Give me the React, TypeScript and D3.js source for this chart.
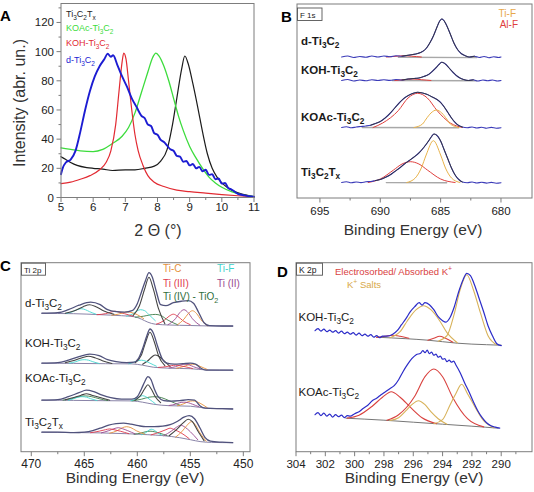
import React from "react";
import * as d3 from "d3";

type P = [number, number];
const FONT = "'Liberation Sans', Arial, Helvetica, sans-serif";

// ================= Panel A : XRD =================
const xrdTicksX = [5, 6, 7, 8, 9, 10, 11];
const xrdMinorX = [5.5, 6.5, 7.5, 8.5, 9.5, 10.5];
const xrdTicksY = [0, 20, 40, 60, 80, 100, 120];
const xrdMinorY = [10, 30, 50, 70, 90, 110, 130];
const xrdNames = ["Ti_3C_2T_x", "KOAc-Ti_3C_2", "KOH-Ti_3C_2", "d-Ti_3C_2"];

const xrdTi3C2Tx: P[] = [[5,28],[5.15,26],[5.3,24],[5.5,22],[5.8,20.5],[6,20],[6.3,19.5],[6.6,18.5],[7,19],[7.3,19],[7.6,20],[7.9,21.5],[8.1,25],[8.3,33],[8.45,48],[8.6,68],[8.75,88],[8.85,97],[8.95,92],[9.1,78],[9.25,62],[9.4,45],[9.55,30],[9.7,20],[9.85,14],[10,10],[10.2,6.5],[10.4,4],[10.6,2.5],[10.8,1.5],[11,0.5]];
const xrdKOAc: P[] = [[5,34],[5.3,33],[5.6,32],[6,31.5],[6.3,33],[6.6,37],[6.9,42],[7.1,48],[7.3,58],[7.5,72],[7.7,86],[7.85,96],[7.95,99],[8.05,97],[8.2,90],[8.35,80],[8.5,68],[8.65,56],[8.8,46],[9,35],[9.2,27],[9.4,20],[9.6,14],[9.8,10],[10,7],[10.3,4],[10.6,2],[11,0.5]];
const xrdKOH: P[] = [[5,9.5],[5.3,10.5],[5.6,12.5],[5.9,15],[6.2,19],[6.4,24],[6.55,32],[6.7,50],[6.8,72],[6.9,93],[6.95,99],[7.02,95],[7.1,80],[7.2,60],[7.3,43],[7.4,32],[7.55,22],[7.7,15],[7.9,10.5],[8.2,7.5],[8.6,5],[9,4],[9.5,3],[10,2],[10.5,1.2],[11,0.5]];
const xrdD: P[] = [[5,16],[5.05,20],[5.15,24],[5.3,26],[5.45,32],[5.6,45],[5.75,60],[5.9,73],[6.05,83],[6.2,90],[6.35,95],[6.45,98.5],[6.55,96.5],[6.62,97.5],[6.75,91],[6.9,83],[7.05,76],[7.2,68],[7.35,62],[7.5,56],[7.6,54.5],[7.7,50],[7.8,49],[7.9,44],[8,43],[8.1,39.5],[8.2,38],[8.3,35.5],[8.4,33],[8.5,32],[8.6,28.5],[8.7,28],[8.8,24.5],[8.9,25],[9,22],[9.1,23],[9.2,20],[9.3,21],[9.4,18],[9.5,19],[9.6,15.5],[9.7,16],[9.8,12.5],[9.9,13],[10,9.5],[10.1,10],[10.2,6.5],[10.3,5.5],[10.5,2.5],[10.7,1.5],[11,0.5]];

// ================= Panel B : F 1s =================
const f1sTicks = [695, 690, 685, 680];
const f1sMinor = [692.5, 687.5, 682.5];
const f1sNames = ["d-Ti_3C_2", "KOH-Ti_3C_2", "KOAc-Ti_3C_2", "Ti_3C_2T_x"];
const f1sFitWindows: P[] = [[688.5, 682], [688.5, 682], [691, 683], [690.5, 683]];

const f1sD: P[] = [[693.2,141],[692.7,142],[692.2,140.5],[691.7,141.5],[691.2,140.8],[690.7,142],[690.2,141],[689.7,142],[689.2,141.3],[688.7,142.3],[688.2,141.8],[687.7,142.8],[687.3,143.5],[686.9,144.5],[686.5,146.5],[686.2,149.5],[685.9,155],[685.6,162],[685.3,171],[685.1,176.5],[684.9,179],[684.7,177],[684.5,172.5],[684.2,164],[683.9,155],[683.6,148.5],[683.3,144.5],[683,142.5],[682.6,141],[682.2,141.8],[681.8,140.5],[681.4,141.5],[681,140.3],[680.6,141.3],[680.2,140.5],[680,141]];
const f1sDBase: P[] = [[688.5,140.8],[682,140.4]];
const f1sDAlF: P[] = [[689.5,141],[688.6,141.8],[688,142.3],[687.4,141.8],[686.6,141]];

const f1sKOH: P[] = [[693.2,117.5],[692.7,118.5],[692.2,117],[691.7,118],[691.2,117.2],[690.7,118.3],[690.2,117.5],[689.7,118.2],[689.2,117.6],[688.7,118.5],[688.2,118],[687.7,119],[687.2,119.5],[686.8,120],[686.4,121.5],[686,123.5],[685.7,126.5],[685.4,130],[685.1,134],[684.9,135.7],[684.6,134],[684.3,130],[684,126],[683.7,122.5],[683.4,120],[683.1,118.5],[682.7,117.5],[682.3,118.2],[681.9,117],[681.5,118],[681.1,117.2],[680.7,118],[680.3,117],[680,117.5]];
const f1sKOHBase: P[] = [[689,117.5],[682,117.2]];
const f1sKOHAlF: P[] = [[688.8,117.5],[688,118.3],[687.3,119],[686.6,118.3],[685.8,117.5]];

const f1sKOAc: P[] = [[693.2,70.5],[692.8,71.3],[692.4,70.2],[692,71],[691.6,71.5],[691.2,72],[690.8,72.8],[690.4,74.5],[690,76.5],[689.6,80],[689.2,84.5],[688.8,90],[688.4,95.5],[688,100],[687.6,103],[687.2,105],[686.9,105.7],[686.5,105],[686.1,103.5],[685.7,101],[685.3,98.5],[685,95.5],[684.7,91],[684.4,85.5],[684.1,80],[683.8,75.5],[683.5,72.5],[683.2,71],[682.8,70.3],[682.4,71],[682,70],[681.6,70.8],[681.2,69.8],[680.8,70.6],[680.4,69.8],[680,70.3]];
const f1sKOAcBase: P[] = [[691.5,70.5],[683.5,70.3]];
const f1sKOAcAlF: P[] = [[690.6,70.5],[689.8,75],[688.5,87.5],[687.7,100],[686.9,104.7],[686.1,100],[685.3,87.5],[684.2,75],[683.2,70.5]];
const f1sKOAcTiF: P[] = [[687.2,70.5],[686.5,74],[686.2,79],[685.8,85],[685.35,88],[684.9,85],[684.5,79],[684.2,74],[683.5,70.5]];

const f1sT: P[] = [[693.2,15.5],[692.8,16.3],[692.4,15.2],[692,16],[691.6,15.4],[691.2,16.2],[690.8,16.5],[690.4,17.5],[690,18.5],[689.6,20.5],[689.2,23],[688.8,26.5],[688.4,30],[688,34],[687.6,37.5],[687.2,41],[686.8,45],[686.4,50.5],[686,57],[685.75,61.5],[685.55,64],[685.3,62.5],[685,57],[684.7,48],[684.4,39],[684.1,30],[683.8,23],[683.5,18.5],[683.2,16],[682.8,15.3],[682.4,16],[682,15],[681.6,15.8],[681.2,14.9],[680.8,15.6],[680.4,14.8],[680,15.3]];
const f1sTBase: P[] = [[689.5,15.4],[684.5,15.3]];
const f1sTAlF: P[] = [[691,15.5],[690,19],[688.9,28],[688.2,34],[687.5,36.3],[686.8,34],[686.1,28],[685,19],[683.8,15.5]];
const f1sTTiF: P[] = [[687.8,15.5],[687.1,20],[686.6,30],[686.2,43],[685.6,57.3],[685,43],[684.6,30],[684.1,20],[683.4,15.5]];

// ================= Panel C : Ti 2p =================
const ti2pTicks = [470, 465, 460, 455, 450];
const ti2pMinor = [467.5, 462.5, 457.5, 452.5];
const ti2pNames = ["d-Ti_3C_2", "KOH-Ti_3C_2", "KOAc-Ti_3C_2", "Ti_3C_2T_x"];
const ti2pLegend = ["Ti-C", "Ti-F", "Ti (III)", "Ti (II)", "Ti (IV) - TiO_2"];

const tiD_env: P[] = [[469,138.5],[467.5,139],[466.5,142],[465.5,146.5],[464.4,149.5],[463.5,147],[462.8,142],[462,140],[461.2,139.5],[460.5,141],[460,148],[459.6,160],[459.2,172],[458.9,179],[458.6,175],[458.2,160],[457.8,147],[457.3,146],[456.6,149],[455.8,150.5],[455.2,151],[454.7,148.5],[454.2,139],[453.7,129],[453.2,126],[452,125.7],[451,125.7]];
const tiD_base: P[] = [[469,138.3],[466,138],[463.5,137],[461.5,136],[460.3,135],[459.6,132.5],[459,129.5],[458.3,127.5],[457,126.7],[455,126.2],[453.5,125.8],[451,125.5]];
const tiD_fit1: P[] = [[460.4,136],[459.8,146],[459.3,163],[458.9,174.5],[458.5,163],[458,143],[457.4,128]];
const tiD_fit2: P[] = [[466.8,138.5],[465.8,141.5],[465.1,145],[464.5,147],[463.9,145],[463.2,141],[462.2,137.5]];
const tiD_TiF1: P[] = [[461,135.5],[460.4,138],[460,141],[459.7,142],[459.3,141],[458.9,137],[458.3,131]];
const tiD_TiF2: P[] = [[466.7,138.3],[466.1,140],[465.7,142],[465.3,143],[464.9,142],[464.5,140],[463.9,137.5]];
const tiD_TiO2: P[] = [[460.2,134.5],[459.4,135.5],[458.8,136.8],[458.3,137.3],[457.8,136.3],[457.1,131.5],[456.2,127]];
const tiD_TiIII: P[] = [[458.2,127.5],[457.5,131],[457,135.5],[456.6,137.5],[456.2,135.5],[455.7,131],[455,127]];
const tiD_TiII: P[] = [[457.1,127],[456.4,133],[456,139],[455.6,142],[455.2,139],[454.8,133],[454.1,126.5]];
const tiD_TiC: P[] = [[456.2,127],[455.6,132.5],[455.2,138],[454.8,141],[454.4,138],[454,132],[453.4,126]];
const tiD_TiIII2: P[] = [[463.8,137],[463,138],[462.5,139.5],[462.1,140.5],[461.7,139.5],[461.2,138],[460.4,135.5]];
const tiD_TiC2: P[] = [[462.4,136.5],[461.8,137.5],[461.3,139],[460.9,139.8],[460.5,139],[460,137],[459.4,133]];

const tiK_env: P[] = [[469,88.5],[467.5,89],[466.5,91.5],[465.5,95],[464.5,97.5],[463.6,96],[462.8,92],[462,90],[461,89],[460.3,89.5],[459.9,93],[459.5,103],[459.1,116],[458.8,122.7],[458.5,119],[458.1,106],[457.7,94],[457.2,88.5],[456.5,87.5],[455.7,88],[455,88.5],[454.5,87.5],[454,83.5],[453.5,81.5],[452,81.5],[451,81.5]];
const tiK_base: P[] = [[469,88.5],[466,88.3],[463,88],[460.5,87.8],[459.5,86.5],[458.5,84.5],[457,83.5],[455,83],[453.5,81.8],[451,81.5]];
const tiK_fit1: P[] = [[460.2,89],[459.6,97],[459.2,110],[458.8,119.5],[458.4,110],[458,96],[457.4,86]];
const tiK_fit2: P[] = [[466.8,89],[465.9,91.5],[465.2,94],[464.6,95.5],[464,94],[463.3,91],[462.4,88.2]];
const tiK_hump: P[] = [[459.5,87.5],[459,91],[458.6,95],[458.3,96.7],[457.9,95],[457.5,91],[456.9,85]];
const tiK_TiF1: P[] = [[460.8,88],[460.3,89.5],[459.9,91],[459.6,91.5],[459.2,90.5],[458.8,88.5],[458.2,85.5]];
const tiK_TiF2: P[] = [[466.4,88.5],[465.8,90],[465.4,91.5],[465,92],[464.6,91.5],[464.2,90],[463.6,88.2]];
const tiK_TiC: P[] = [[456.3,83.5],[455.7,85],[455.2,86.8],[454.8,87.5],[454.4,86.8],[454,85],[453.4,82.2]];
const tiK_TiII: P[] = [[457,83.7],[456.4,85],[455.9,86.8],[455.5,87.5],[455.1,86.8],[454.7,85],[454.1,83]];
const tiK_TiIII: P[] = [[458,84.3],[457.3,85],[456.8,86],[456.4,86.5],[456,86],[455.5,85],[454.8,83.2]];

const tiA_env: P[] = [[469,51.5],[467.5,52],[466.5,55],[465.5,59],[464.8,61.5],[464.1,60],[463.3,56.5],[462.5,54],[461.5,52.5],[460.5,52.5],[460,55],[459.6,63],[459.3,70],[459,75],[458.7,72],[458.4,63],[458,54.5],[457.5,51],[456.8,50.5],[456,51],[455.2,52],[454.6,51.5],[454.1,46],[453.6,43.5],[452,43],[451,42.7]];
const tiA_base: P[] = [[469,51.6],[466,51.3],[463,51],[460.5,50.8],[459.5,49.5],[458.5,47.5],[457,46],[455,45.5],[453.5,43.5],[451,42.8]];
const tiA_fit1: P[] = [[460.2,51.5],[459.7,56],[459.3,63],[459,67],[458.7,63],[458.3,55],[457.8,49]];
const tiA_fit2: P[] = [[466.8,52],[465.9,54.5],[465.3,56.5],[464.8,58],[464.3,56.5],[463.6,54.5],[462.6,51.5]];
const tiA_TiO2a: P[] = [[460.5,50.8],[459.6,52.5],[458.9,54.5],[458.3,55],[457.7,54],[457,51],[456,46.5]];
const tiA_TiO2b: P[] = [[467,51.6],[466.2,53],[465.5,55],[464.9,55.8],[464.3,55],[463.6,53],[462.8,51.2]];
const tiA_TiF1: P[] = [[460.6,51],[460.1,53],[459.8,55],[459.5,56],[459.2,55],[458.8,52],[458.3,48]];
const tiA_TiF2: P[] = [[466.5,51.5],[466,53],[465.6,54.5],[465.2,55],[464.8,54.5],[464.4,53],[463.8,51.2]];
const tiA_TiC: P[] = [[456.2,46],[455.6,48],[455.2,50],[454.8,50.8],[454.4,50],[454,48],[453.4,44]];
const tiA_TiII: P[] = [[457,46.2],[456.4,47.5],[456,49],[455.6,49.5],[455.2,49],[454.8,47.5],[454.2,45]];

const tiT_env: P[] = [[469,19.5],[467.5,19.5],[466,19],[465,19.5],[464.2,21],[463.5,23.5],[462.7,26.5],[462,28],[461.3,28.5],[460.6,27.5],[459.9,26],[459.2,25],[458.4,25],[457.6,25.5],[456.9,27],[456.2,30.5],[455.6,34.5],[455.1,36],[454.6,33],[454.1,24],[453.6,14],[453.1,10.5],[452,9.5],[451,9]];
const tiT_base: P[] = [[469,19.5],[466,19.2],[463.5,18.8],[461,18],[459,17],[457.5,16],[456,14],[455,12],[454,10],[453,9.3],[451,9]];
const tiT_fit1: P[] = [[457,16],[456.3,22],[455.7,28.5],[455.2,32.5],[454.8,30],[454.3,21],[453.7,11]];
const tiT_TiC: P[] = [[456.4,14.5],[455.8,20],[455.3,26.5],[454.9,30],[454.5,26.5],[454.1,19],[453.5,10.5]];
const tiT_TiII: P[] = [[457.5,16],[456.8,20.5],[456.3,24.5],[455.9,26.5],[455.5,24.5],[455,20],[454.3,12]];
const tiT_TiIII: P[] = [[458.7,16.8],[457.9,19.5],[457.3,22],[456.9,23.5],[456.5,22],[455.9,19],[455.1,13]];
const tiT_TiF: P[] = [[459.6,17],[459.2,19],[458.9,21.5],[458.7,22.5],[458.4,21.5],[458.1,19],[457.7,16.5]];
const tiT_TiO2: P[] = [[460.3,17.5],[459.7,18.5],[459.2,20],[458.8,20.5],[458.4,20],[457.9,18.5],[457.2,16.2]];
const tiT_TiC2: P[] = [[462.6,18.5],[461.9,21],[461.4,24],[461,25],[460.6,24],[460.1,21],[459.3,17.5]];
const tiT_TiII2: P[] = [[463.4,18.8],[462.7,21],[462.2,23],[461.8,24],[461.4,23],[460.9,21],[460.2,17.8]];
const tiT_TiIII2: P[] = [[464.4,19],[463.6,20.5],[463,22],[462.6,22.8],[462.2,22],[461.6,20.5],[460.8,18]];

// ================= Panel D : K 2p =================
const k2pTicks = [304, 302, 300, 298, 296, 294, 292, 290];
const k2pMinor = [303, 301, 299, 297, 295, 293, 291, 289];
const k2pNames = ["KOH-Ti_3C_2", "KOAc-Ti_3C_2"];
const k2pLegend = ["Electrosorbed/ Absorbed K^+", "K^+ Salts"];

const kKOH: P[] = [[302.7,121],[302.5,123],[302.3,120.5],[302.1,122.5],[301.9,120],[301.7,121.5],[301.5,119.5],[301.3,121],[301.1,118.5],[300.9,120.5],[300.7,118],[300.5,119.5],[300.3,117.5],[300.1,119],[299.9,116.5],[299.7,118.5],[299.5,116],[299.3,117.5],[299.1,115.5],[298.9,117],[298.7,114.5],[298.5,116],[298.3,114],[298.1,115.5],[297.8,115.5],[297.4,117.5],[297.1,121],[296.8,127],[296.5,133],[296.2,140],[295.9,145],[295.6,149],[295.4,146.5],[295.2,149],[294.9,147],[294.6,142],[294.3,135],[294,131],[293.8,129.5],[293.5,134],[293.2,145],[292.9,160],[292.6,172],[292.35,178.4],[292.1,176],[291.8,166],[291.5,153],[291.2,140],[290.9,126],[290.6,116],[290.3,108],[290,106]];
const kKOHBase: P[] = [[298.5,114.5],[296.5,113],[295,111.5],[294,110],[293,108.5],[291,107],[290,106.5]];
const kKOHSalt1: P[] = [[297.6,114],[296.9,120],[296.4,131],[295.8,142],[295.3,146],[294.8,142],[294.2,131],[293.7,119],[293,109]];
const kKOHSalt2: P[] = [[294.3,110.5],[293.7,116],[293.2,138],[292.8,162],[292.35,177],[291.9,162],[291.4,138],[290.9,116],[290.3,107]];
const kKOHAds1: P[] = [[298.5,114.3],[297.9,115.5],[297.4,116.5],[296.9,115.5],[296.3,113.5]];
const kKOHAds2: P[] = [[295,111.5],[294.6,113.5],[294.2,115.5],[293.8,113.5],[293.3,109.5]];

const kKOAc: P[] = [[302.7,37],[302.5,39],[302.3,36],[302.1,38.5],[301.9,35.5],[301.7,37.5],[301.5,34.5],[301.3,37],[301.1,35],[300.9,36.5],[300.7,34],[300.5,36],[300.3,35.5],[300,38],[299.7,40],[299.4,43.5],[299.1,46.5],[298.8,51],[298.5,53.5],[298.2,57],[297.9,60],[297.6,63],[297.3,66],[297,72],[296.7,80],[296.4,87],[296.1,93],[295.8,97],[295.5,98.5],[295.35,101],[295.2,99],[295.05,101.5],[294.9,98],[294.75,99.5],[294.6,96.5],[294.45,97.5],[294.3,94.5],[294.15,95.5],[294,92.5],[293.85,93],[293.7,90],[293.55,91.5],[293.4,89.5],[293.25,90.5],[293.1,87],[292.8,79],[292.5,69],[292.2,60],[291.9,50],[291.6,41],[291.3,34],[291,29],[290.7,26],[290.4,24.5],[290.1,23.5]];
const kKOAcBase: P[] = [[300.6,33.5],[298,31.5],[296,29.5],[294,27.5],[292,25.5],[290.2,23.5]];
const kKOAcAds1: P[] = [[300.5,33.6],[299.7,36.5],[298.8,45.5],[298.1,54.5],[297.5,60],[296.9,54.5],[296.2,44.5],[295.4,34],[294.4,28]];
const kKOAcSalt1: P[] = [[297.6,31.2],[297,34],[296.5,41],[296.1,47],[295.65,51],[295.2,47],[294.8,40],[294.3,33],[293.7,27.5]];
const kKOAcAds2: P[] = [[297.8,31.5],[297,37],[295.9,55.5],[295.2,75],[294.6,82.7],[294,75],[293.3,54],[292.3,33],[291.2,24.8]];
const kKOAcSalt2: P[] = [[294.6,28],[294,32],[293.5,46.5],[293.1,58],[292.7,67.4],[292.3,58],[291.8,45],[291.2,31],[290.5,24]];

// ================= helpers =================
function Rich({ x, y, text, size, fill = "#111", weight = "normal", anchor = "start", transform }: any) {
  const parts: { t: string; k: number }[] = [];
  let buf = "";
  for (let i = 0; i < text.length; i++) {
    const c = text[i];
    if ((c === "_" || c === "^") && i + 1 < text.length) {
      if (buf) parts.push({ t: buf, k: 0 });
      buf = "";
      parts.push({ t: text[i + 1], k: c === "_" ? 1 : -1 });
      i++;
    } else buf += c;
  }
  if (buf) parts.push({ t: buf, k: 0 });
  let cur = 0;
  return (
    <text x={x} y={y} fontSize={size} fill={fill} fontWeight={weight} textAnchor={anchor} fontFamily={FONT} transform={transform}>
      {parts.map((p, j) => {
        const target = p.k === 1 ? size * 0.3 : p.k === -1 ? -size * 0.4 : 0;
        const dy = target - cur;
        cur = target;
        return (
          <tspan key={j} dy={dy} fontSize={p.k ? size * 0.72 : size}>
            {p.t}
          </tspan>
        );
      })}
    </text>
  );
}

function mkPath(pts: P[], x: any, y: any) {
  return (
    d3
      .line<P>()
      .x((d) => x(d[0]))
      .y((d) => y(d[1]))
      .curve(d3.curveMonotoneX)(pts) || ""
  );
}

function Curve({ pts, x, y, stroke, w = 1 }: any) {
  return <path d={mkPath(pts, x, y)} fill="none" stroke={stroke} strokeWidth={w} strokeLinejoin="round" strokeLinecap="round" />;
}

const FRAME = "#7d7d7d";

function Frame({ x, y }: any) {
  const [x0, x1] = x.range();
  const [y0, y1] = y.range();
  return <rect x={Math.min(x0, x1)} y={Math.min(y0, y1)} width={Math.abs(x1 - x0)} height={Math.abs(y1 - y0)} fill="none" stroke={FRAME} strokeWidth={1} />;
}

function BottomAxis({ x, y, major, minor, size, labelY }: any) {
  const yb = y.range()[0];
  return (
    <g>
      {minor.map((t: number) => (
        <line key={"m" + t} x1={x(t)} x2={x(t)} y1={yb} y2={yb + 2.5} stroke={FRAME} />
      ))}
      {major.map((t: number) => (
        <g key={t}>
          <line x1={x(t)} x2={x(t)} y1={yb} y2={yb + 4.5} stroke={FRAME} />
          <text x={x(t)} y={labelY} fontSize={size} textAnchor="middle" fontFamily={FONT} fill="#222">
            {t}
          </text>
        </g>
      ))}
    </g>
  );
}

export default function App() {
  const xA = d3.scaleLinear().domain([5, 11]).range([61, 254]);
  const yA = d3.scaleLinear().domain([0, 133]).range([197.5, 3.5]);
  const xB = d3.scaleLinear().domain([696.9, 677.43]).range([297, 532]);
  const yB = d3.scaleLinear().domain([0, 194]).range([198, 4]);
  const xC = d3.scaleLinear().domain([470.97, 449.37]).range([21, 250]);
  const yC = d3.scaleLinear().domain([0, 189]).range([451.7, 262.7]);
  const xD = d3.scaleLinear().domain([304, 287.9]).range([296, 532]);
  const yD = d3.scaleLinear().domain([0, 189]).range([451.7, 262.7]);

  const xrdSeries = [xrdTi3C2Tx, xrdKOAc, xrdKOH, xrdD];
  const xrdColors = ["#1b1b1b", "#3ddc3d", "#e22a32", "#1c1cd2"];
  const xrdWidths = [1.2, 1.3, 1.2, 1.9];
  const xrdLegendY = [17, 31, 46, 63];

  const f1s = [
    { data: f1sD, base: f1sDBase, comps: [[f1sDAlF, "AlF"]] },
    { data: f1sKOH, base: f1sKOHBase, comps: [[f1sKOHAlF, "AlF"]] },
    { data: f1sKOAc, base: f1sKOAcBase, comps: [[f1sKOAcAlF, "AlF"], [f1sKOAcTiF, "TiF"]] },
    { data: f1sT, base: f1sTBase, comps: [[f1sTAlF, "AlF"], [f1sTTiF, "TiF"]] },
  ];
  const f1sColors: any = { AlF: "#e0403e", TiF: "#e8b24a" };
  const f1sLabelY = [45, 73.5, 121, 176];

  const ti = [
    {
      env: tiD_env, base: tiD_base,
      comps: [[tiD_TiO2, "TiO2"], [tiD_TiF1, "TiF"], [tiD_TiF2, "TiF"], [tiD_TiIII, "TiIII"], [tiD_TiII, "TiII"], [tiD_TiC, "TiC"], [tiD_TiIII2, "TiIII"], [tiD_TiC2, "TiC"], [tiD_fit1, "fit"], [tiD_fit2, "fit"]],
    },
    {
      env: tiK_env, base: tiK_base,
      comps: [[tiK_hump, "fit"], [tiK_TiF1, "TiF"], [tiK_TiF2, "TiF"], [tiK_TiC, "TiC"], [tiK_TiII, "TiII"], [tiK_TiIII, "TiIII"], [tiK_fit1, "fit"], [tiK_fit2, "fit"]],
    },
    {
      env: tiA_env, base: tiA_base,
      comps: [[tiA_TiO2a, "TiO2"], [tiA_TiO2b, "TiO2"], [tiA_TiF1, "TiF"], [tiA_TiF2, "TiF"], [tiA_TiC, "TiC"], [tiA_TiII, "TiII"], [tiA_fit1, "fit"], [tiA_fit2, "fit"]],
    },
    {
      env: tiT_env, base: tiT_base,
      comps: [[tiT_TiO2, "TiO2"], [tiT_TiF, "TiF"], [tiT_TiIII, "TiIII"], [tiT_TiII, "TiII"], [tiT_TiC, "TiC"], [tiT_TiC2, "TiC"], [tiT_TiII2, "TiII"], [tiT_TiIII2, "TiIII"], [tiT_fit1, "fit"]],
    },
  ];
  const tiColors: any = { fit: "#454545", TiF: "#45d8d0", TiO2: "#3d7c48", TiIII: "#df3a4c", TiII: "#9a4a90", TiC: "#e6913c" };
  const tiLabelY = [307, 347, 382, 426];
  const tiLegendColors = ["#e6913c", "#3fd3cb", "#df3a4c", "#9a4a90", "#2f6e3c"];
  const tiLegendPos: P[] = [[163, 272], [217, 272], [163, 287], [217, 287], [163, 300]];

  const k2p = [
    { data: kKOH, base: kKOHBase, comps: [[kKOHAds1, "ads"], [kKOHAds2, "ads"], [kKOHSalt1, "salt"], [kKOHSalt2, "salt"]] },
    { data: kKOAc, base: kKOAcBase, comps: [[kKOAcAds1, "ads"], [kKOAcSalt1, "salt"], [kKOAcAds2, "ads"], [kKOAcSalt2, "salt"]] },
  ];
  const kColors: any = { ads: "#d9423f", salt: "#d8b25a" };
  const kLabelY = [321, 396];

  return (
    <svg width={534} height={492} viewBox="0 0 534 492" style={{ position: "absolute", left: 0, top: 0, background: "#fff" }}>
      <rect x={0} y={0} width={534} height={492} fill="#fff" />

      {/* ---------- Panel A ---------- */}
      <g>
        {xrdSeries.map((s, i) => (
          <Curve key={i} pts={s} x={xA} y={yA} stroke={xrdColors[i]} w={xrdWidths[i]} />
        ))}
        <Frame x={xA} y={yA} />
        <BottomAxis x={xA} y={yA} major={xrdTicksX} minor={xrdMinorX} size={11.5} labelY={211} />
        {xrdMinorY.map((t) => (
          <line key={"ym" + t} x1={61} x2={58.5} y1={yA(t)} y2={yA(t)} stroke={FRAME} />
        ))}
        {xrdTicksY.map((t) => (
          <g key={"y" + t}>
            <line x1={61} x2={56.5} y1={yA(t)} y2={yA(t)} stroke={FRAME} />
            <text x={54} y={yA(t) + 4} fontSize={11.5} textAnchor="end" fontFamily={FONT} fill="#222">
              {t}
            </text>
          </g>
        ))}
        {xrdNames.map((n, i) => (
          <Rich key={n} x={66} y={xrdLegendY[i]} text={n} size={9} fill={xrdColors[i]} />
        ))}
        <text x={25} y={103} transform="rotate(-90 25 103)" fontSize={16} textAnchor="middle" fontFamily={FONT} fill="#333">
          Intensity (abr. un.)
        </text>
        <text x={158} y={236} fontSize={16} textAnchor="middle" fontFamily={FONT} fill="#333">
          2 Θ (°)
        </text>
        <text x={0} y={20.5} fontSize={15} fontWeight="bold" fontFamily={FONT} fill="#000">
          A
        </text>
      </g>

      {/* ---------- Panel B ---------- */}
      <g>
        {f1s.map((s, i) => (
          <g key={i}>
            <Curve pts={s.base} x={xB} y={yB} stroke="#a8a8a8" w={1.4} />
            {s.comps.map((c: any, j: number) => (
              <Curve key={j} pts={c[0]} x={xB} y={yB} stroke={f1sColors[c[1]]} w={1} />
            ))}
            <Curve pts={s.data} x={xB} y={yB} stroke="#3b3bb8" w={1.1} />
            <Curve
              pts={s.data.filter((d) => d[0] <= f1sFitWindows[i][0] && d[0] >= f1sFitWindows[i][1])}
              x={xB}
              y={yB}
              stroke="#333"
              w={0.9}
            />
            <Rich x={301} y={f1sLabelY[i]} text={f1sNames[i]} size={11.5} weight="bold" fill="#1a1a1a" />
          </g>
        ))}
        <Frame x={xB} y={yB} />
        <BottomAxis x={xB} y={yB} major={f1sTicks} minor={f1sMinor} size={11.5} labelY={215} />
        <rect x={297.5} y={8} width={24.5} height={12.5} fill="#fff" stroke="#555" strokeWidth={0.9} />
        <text x={300} y={17.5} fontSize={8} fontFamily={FONT} fill="#222">
          F 1s
        </text>
        <text x={516} y={17} fontSize={10} textAnchor="end" fontFamily={FONT} fill="#e8a84a">
          Ti-F
        </text>
        <text x={518} y={27.5} fontSize={10} textAnchor="end" fontFamily={FONT} fill="#e0403e">
          Al-F
        </text>
        <text x={413} y={235} fontSize={15.5} textAnchor="middle" fontFamily={FONT} fill="#333">
          Binding Energy (eV)
        </text>
        <text x={281} y={21.5} fontSize={15} fontWeight="bold" fontFamily={FONT} fill="#000">
          B
        </text>
      </g>

      {/* ---------- Panel C ---------- */}
      <g>
        {ti.map((s, i) => (
          <g key={i}>
            <Curve pts={s.base} x={xC} y={yC} stroke="#8a84a8" w={1} />
            {s.comps.map((c: any, j: number) => (
              <Curve key={j} pts={c[0]} x={xC} y={yC} stroke={tiColors[c[1]]} w={c[1] === "fit" ? 1.1 : 0.9} />
            ))}
            <Curve pts={s.env} x={xC} y={yC} stroke="#50527c" w={1.3} />
            <Rich x={25} y={tiLabelY[i]} text={ti2pNames[i]} size={11.5} fill="#1a1a1a" />
          </g>
        ))}
        <Frame x={xC} y={yC} />
        <BottomAxis x={xC} y={yC} major={ti2pTicks} minor={ti2pMinor} size={12} labelY={467.5} />
        <rect x={21.5} y={263.2} width={24} height={12} fill="#fff" stroke="#555" strokeWidth={0.9} />
        <text x={24} y={272.5} fontSize={8} fontFamily={FONT} fill="#222">
          Ti 2p
        </text>
        {ti2pLegend.map((n, i) => (
          <Rich key={n} x={tiLegendPos[i][0]} y={tiLegendPos[i][1]} text={n} size={10} fill={tiLegendColors[i]} />
        ))}
        <text x={135} y={483} fontSize={15.5} textAnchor="middle" fontFamily={FONT} fill="#333">
          Binding Energy (eV)
        </text>
        <text x={0} y={271} fontSize={15} fontWeight="bold" fontFamily={FONT} fill="#000">
          C
        </text>
      </g>

      {/* ---------- Panel D ---------- */}
      <g>
        {k2p.map((s, i) => (
          <g key={i}>
            <Curve pts={s.base} x={xD} y={yD} stroke="#777" w={1} />
            {s.comps.map((c: any, j: number) => (
              <Curve key={j} pts={c[0]} x={xD} y={yD} stroke={kColors[c[1]]} w={1.1} />
            ))}
            <Curve pts={s.data} x={xD} y={yD} stroke="#2c2cc8" w={1.2} />
            <Rich x={298.5} y={kLabelY[i]} text={k2pNames[i]} size={11.5} fill="#1a1a1a" />
          </g>
        ))}
        <Frame x={xD} y={yD} />
        <BottomAxis x={xD} y={yD} major={k2pTicks} minor={k2pMinor.filter((t) => t > 287.9)} size={11.5} labelY={467.5} />
        <rect x={296.5} y={263.2} width={26} height={12} fill="#fff" stroke="#555" strokeWidth={0.9} />
        <text x={299} y={272.5} fontSize={8.5} fontFamily={FONT} fill="#222">
          K 2p
        </text>
        <Rich x={335} y={275} text={k2pLegend[0]} size={9.5} fill="#d9423f" />
        <Rich x={347} y={288} text={k2pLegend[1]} size={9.5} fill="#d8a84a" />
        <text x={414} y={483} fontSize={15.5} textAnchor="middle" fontFamily={FONT} fill="#333">
          Binding Energy (eV)
        </text>
        <text x={277} y={277} fontSize={15} fontWeight="bold" fontFamily={FONT} fill="#000">
          D
        </text>
      </g>
    </svg>
  );
}
